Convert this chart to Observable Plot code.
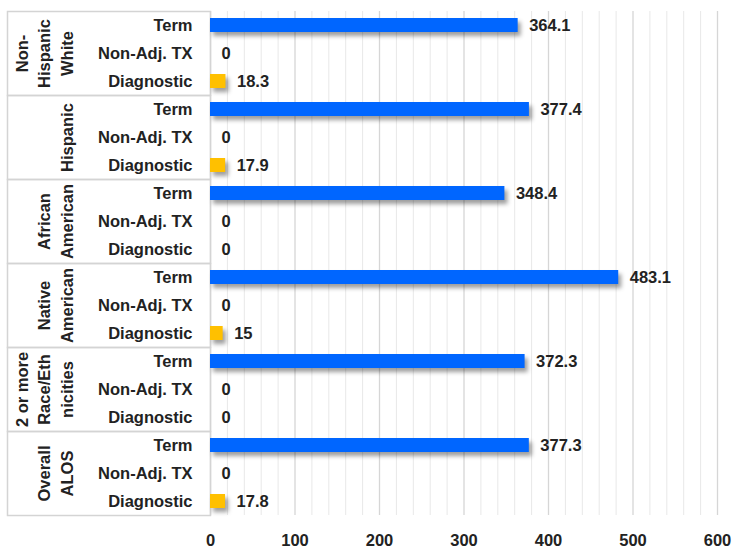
<!DOCTYPE html>
<html>
<head>
<meta charset="utf-8">
<script src="https://cdn.jsdelivr.net/npm/d3@7"></script>
<script src="https://cdn.jsdelivr.net/npm/@observablehq/plot@0.6"></script>
<style>
  html, body { margin: 0; padding: 0; background: #fff; }
  #chart svg { display: block; }
  #chart g[aria-label="bar"] rect { filter: drop-shadow(3px 4px 2px rgba(0,0,0,0.38)); }
</style>
</head>
<body>
<div id="chart"></div>
<script>
// ---- data ----
const groups = ["Non-Hispanic White", "Hispanic", "African American", "Native American", "2 or more Race/Ethnicities", "Overall ALOS"];
const groupLabels = ["Non-\nHispanic\nWhite", "Hispanic", "African\nAmerican", "Native\nAmerican", "2 or more\nRace/Eth\nnicities", "Overall\nALOS"];
const measures = ["Term", "Non-Adj. TX", "Diagnostic"];
const termValues = [364.1, 377.4, 348.4, 483.1, 372.3, 377.3];
const nonAdjValues = [0, 0, 0, 0, 0, 0];
const diagnosticValues = [18.3, 17.9, 0, 15, 0, 17.8];
const majorTicks = [0, 100, 200, 300, 400, 500, 600];
const minorTicks = [20, 40, 60, 80, 120, 140, 160, 180, 220, 240, 260, 280, 320, 340, 360, 380, 420, 440, 460, 480, 520, 540, 560, 580];
const barColors = ["#0066ff", "#a6a6a6", "#ffc000"];

// ---- table for Plot ----
const rows = groups.flatMap((g, i) => [
  {group: g, measure: measures[0], value: termValues[i]},
  {group: g, measure: measures[1], value: nonAdjValues[i]},
  {group: g, measure: measures[2], value: diagnosticValues[i]}
]);
const groupRows = groups.map((g, i) => ({group: g, label: groupLabels[i]}));

const W = 732, H = 552;
const ML = 210, MR = 15, MT = 10, MB = 36;
const FONT = "'Liberation Sans', Arial, sans-serif";
const INK = "#222222";
const LINE = "#d4d4d4";

const chart = Plot.plot({
  width: W,
  height: H,
  marginLeft: ML,
  marginRight: MR,
  marginTop: MT,
  marginBottom: MB,
  style: {fontFamily: FONT, fontSize: "16.5px", fontWeight: "bold", color: INK, background: "#fff"},
  x: {domain: [0, 600], ticks: majorTicks, tickSize: 0, tickPadding: 19, label: null},
  y: {domain: measures, paddingInner: 0.5, paddingOuter: 0.25, tickSize: 0, tickPadding: 18, label: null},
  fy: {domain: groups, padding: 0, axis: null, label: null},
  color: {domain: measures, range: barColors},
  marks: [
    Plot.ruleX(minorTicks, {stroke: "#e8e8e8", strokeWidth: 1}),
    Plot.ruleX(majorTicks, {stroke: "#d6d6d6", strokeWidth: 1.3}),
    Plot.frame({stroke: LINE, strokeWidth: 1.5, insetLeft: -(ML - 7), insetRight: W - ML - MR}),
    Plot.barX(rows, {x: "value", y: "measure", fy: "group", fill: "measure"}),
    Plot.text(rows, {x: "value", y: "measure", fy: "group", text: d => String(d.value), dx: 11, textAnchor: "start", fill: INK, fontSize: 16.5, fontWeight: "bold"}),
    Plot.text(groupRows, {fy: "group", text: "label", frameAnchor: "left", rotate: -90, dx: -138, lineAnchor: "bottom", lineHeight: 1.36, textAnchor: "middle", fill: INK, fontSize: 16.5, fontWeight: "bold"})
  ]
});
document.getElementById("chart").appendChild(chart);
</script>
</body>
</html>
